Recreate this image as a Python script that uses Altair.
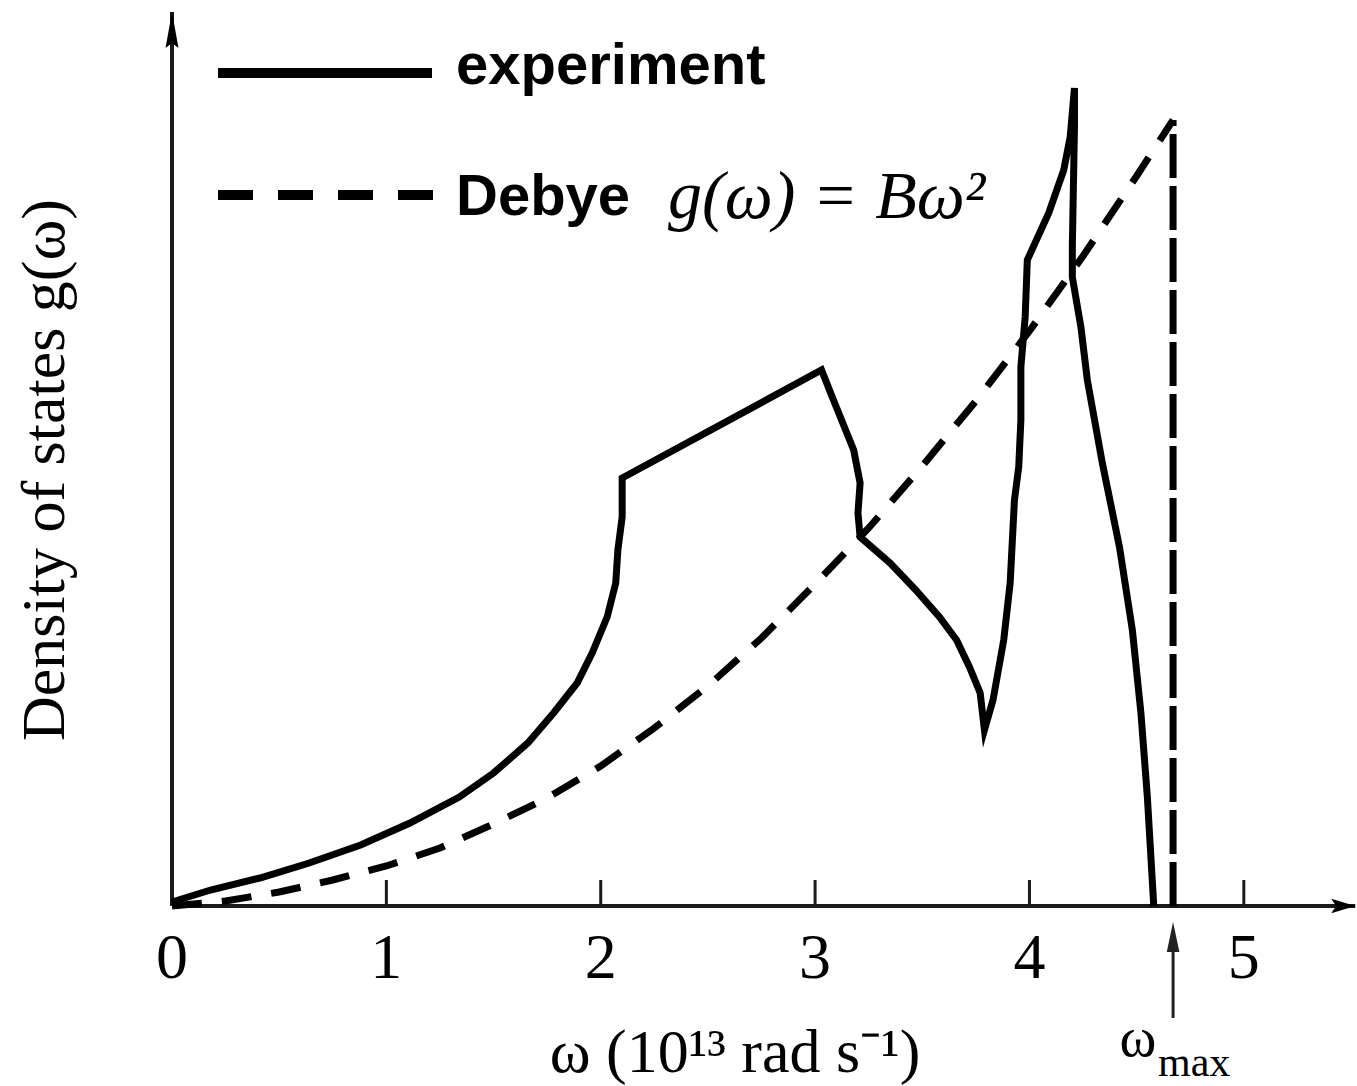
import altair as alt
import pandas as pd

# ---------------- data ----------------
tick_values = [0, 1, 2, 3, 4, 5]
tick_labels = ["0", "1", "2", "3", "4", "5"]

exp_omega = [0.0, 0.18, 0.41, 0.64, 0.88, 1.11, 1.34, 1.50, 1.66, 1.78, 1.89,
             1.96, 2.03, 2.07, 2.08, 2.10, 2.10,
             3.03, 3.08, 3.18, 3.21, 3.20, 3.21,
             3.35, 3.47, 3.58, 3.66, 3.72, 3.77, 3.79,
             3.83, 3.88, 3.91, 3.93, 3.95, 3.96, 3.96, 3.98, 3.99,
             4.09, 4.16, 4.19, 4.21,
             4.21, 4.20, 4.20, 4.24, 4.27, 4.34, 4.42, 4.48, 4.52, 4.55, 4.58]
exp_g = [0.04, 0.16, 0.28, 0.43, 0.61, 0.83, 1.09, 1.33, 1.63, 1.93, 2.23,
         2.53, 2.89, 3.23, 3.56, 3.89, 4.28,
         5.36, 5.09, 4.56, 4.23, 3.93, 3.69,
         3.43, 3.16, 2.89, 2.66, 2.39, 2.13, 1.76,
         2.06, 2.66, 3.23, 4.06, 4.39, 4.86, 5.39, 5.89, 6.46,
         6.93, 7.36, 7.69, 8.18,
         7.79, 6.59, 6.29, 5.79, 5.26, 4.43, 3.59, 2.76, 1.93, 1.09, 0.0]

debye_omega = [0, 0.25, 0.5, 0.75, 1.0, 1.25, 1.5, 1.75, 2.0, 2.25, 2.5, 2.75,
               3.0, 3.25, 3.5, 3.75, 4.0, 4.25, 4.5, 4.67]
debye_g = [0, 0.05, 0.14, 0.26, 0.40, 0.58, 0.82, 1.08, 1.40, 1.78, 2.20, 2.68,
           3.22, 3.78, 4.40, 5.05, 5.75, 6.50, 7.30, 7.86]

omega_max = 4.67
g_max = 7.86

legend_labels = ["experiment", "Debye"]
formula_text = ["g(ω) = Bω²"]
x_title = ["ω (10¹³ rad s⁻¹)"]
y_title = ["Density of states g(ω)"]
omega_max_label = ["ω", "max"]

x_axis_end = 5.52
y_axis_end = 8.94

# ---------------- layout ----------------
L, T = 172, 6
W, H = 1179, 900

xs = alt.Scale(domain=[0, 5.5], nice=False, zero=False)
ys = alt.Scale(domain=[0, 9], nice=False, zero=False)

SERIF = "Liberation Serif"
SANS = "Liberation Sans"

exp_df = pd.DataFrame({"w": exp_omega, "g": exp_g, "i": list(range(len(exp_omega)))})
deb_df = pd.DataFrame({"w": debye_omega, "g": debye_g, "i": list(range(len(debye_omega)))})

X = lambda f: alt.X(f, scale=xs, axis=None)
Y = lambda f: alt.Y(f, scale=ys, axis=None)

exp_line = alt.Chart(exp_df).mark_line(color="black", strokeWidth=7,
                                       strokeMiterLimit=6).encode(
    x=X("w:Q"), y=Y("g:Q"), order="i:Q")

deb_line = alt.Chart(deb_df).mark_line(color="black", strokeWidth=7,
                                       strokeDash=[30, 20]).encode(
    x=X("w:Q"), y=Y("g:Q"), order="i:Q")

vert_df = pd.DataFrame({"w": [omega_max], "g0": [0], "g1": [g_max]})
deb_vert = alt.Chart(vert_df).mark_rule(color="black", strokeWidth=7,
                                        strokeDash=[44, 8]).encode(
    x=X("w:Q"), y=Y("g0:Q"), y2="g1:Q")

# axes
xaxis_df = pd.DataFrame({"x0": [0], "x1": [x_axis_end], "y": [0]})
x_axis = alt.Chart(xaxis_df).mark_rule(color="#1a1a1a", strokeWidth=4).encode(
    x=X("x0:Q"), x2="x1:Q", y=Y("y:Q"))
yaxis_df = pd.DataFrame({"x": [0], "y0": [0], "y1": [y_axis_end]})
y_axis = alt.Chart(yaxis_df).mark_rule(color="#1a1a1a", strokeWidth=4).encode(
    x=X("x:Q"), y=Y("y0:Q"), y2="y1:Q")

up_head = "M0,-1L0.36,1L0,0.72L-0.36,1Z"
right_head = "M1,0L-1,0.6L-0.6,0L-1,-0.6Z"

y_arrow = alt.Chart(pd.DataFrame({"x": [0], "y": [y_axis_end]})).mark_point(
    shape=up_head, size=1296, filled=True, color="black", opacity=1, yOffset=18
).encode(x=X("x:Q"), y=Y("y:Q"))
x_arrow = alt.Chart(pd.DataFrame({"x": [x_axis_end], "y": [0]})).mark_point(
    shape=right_head, size=576, filled=True, color="black", opacity=1, xOffset=-12
).encode(x=X("x:Q"), y=Y("y:Q"))

ticks_df = pd.DataFrame({"t": tick_values[1:], "y0": 0, "y1": 0.26})
ticks = alt.Chart(ticks_df).mark_rule(color="#1a1a1a", strokeWidth=3).encode(
    x=X("t:Q"), y=Y("y0:Q"), y2="y1:Q")

tl_df = pd.DataFrame({"t": tick_values, "lab": tick_labels})
tick_text = alt.Chart(tl_df).mark_text(font=SERIF, fontSize=64, color="black",
                                       align="center", baseline="alphabetic").encode(
    x=X("t:Q"), y=alt.value(972), text="lab:N")

# omega_max arrow
wm_df = pd.DataFrame({"w": [omega_max]})
wm_rule = alt.Chart(wm_df).mark_rule(color="#222", strokeWidth=3).encode(
    x=X("w:Q"), y=alt.value(1012), y2=alt.value(930))
wm_head = alt.Chart(wm_df).mark_point(
    shape="M0,-1L0.42,1L-0.42,1Z", size=900, filled=True, color="#222",
    opacity=1, yOffset=15).encode(x=X("w:Q"), y=alt.value(916))
wm_omega = alt.Chart(pd.DataFrame({"s": [omega_max_label[0]]})).mark_text(
    font=SERIF, fontSize=56, color="black", align="center", baseline="alphabetic"
).encode(x=alt.value(966), y=alt.value(1050), text="s:N")
wm_max = alt.Chart(pd.DataFrame({"s": [omega_max_label[1]]})).mark_text(
    font=SERIF, fontSize=42, color="black", align="left", baseline="alphabetic"
).encode(x=alt.value(986), y=alt.value(1070), text="s:N")

# axis titles
xt = alt.Chart(pd.DataFrame({"s": x_title})).mark_text(
    font=SERIF, fontSize=62, color="black", align="center", baseline="alphabetic"
).encode(x=alt.value(563), y=alt.value(1066), text="s:N")
yt = alt.Chart(pd.DataFrame({"s": y_title})).mark_text(
    font=SERIF, fontSize=62, color="black", align="center", baseline="middle", angle=270
).encode(x=alt.value(-127), y=alt.value(464), text="s:N")

# legend
leg_solid = alt.Chart(pd.DataFrame({"s": [legend_labels[0]]})).mark_rule(
    color="black", strokeWidth=10).encode(x=alt.value(46), x2=alt.value(260), y=alt.value(67))
leg_dash = alt.Chart(pd.DataFrame({"s": [legend_labels[1]]})).mark_rule(
    color="black", strokeWidth=10, strokeDash=[35, 25]).encode(
    x=alt.value(46), x2=alt.value(262), y=alt.value(189))
leg_t1 = alt.Chart(pd.DataFrame({"s": [legend_labels[0]]})).mark_text(
    font=SANS, fontSize=58, fontWeight="bold", color="black", align="left",
    baseline="alphabetic").encode(x=alt.value(284), y=alt.value(78), text="s:N")
leg_t2 = alt.Chart(pd.DataFrame({"s": [legend_labels[1]]})).mark_text(
    font=SANS, fontSize=58, fontWeight="bold", color="black", align="left",
    baseline="alphabetic").encode(x=alt.value(284), y=alt.value(209), text="s:N")
formula = alt.Chart(pd.DataFrame({"s": formula_text})).mark_text(
    font=SERIF, fontSize=68, fontStyle="italic", color="black", align="left",
    baseline="alphabetic").encode(x=alt.value(496), y=alt.value(212), text="s:N")

chart = alt.layer(
    x_axis, y_axis, ticks, x_arrow, y_arrow,
    deb_line, deb_vert, exp_line,
    tick_text, wm_rule, wm_head, wm_omega, wm_max, xt, yt,
    leg_solid, leg_dash, leg_t1, leg_t2, formula
).properties(
    width=W, height=H,
    padding={"left": L, "top": T, "right": 1357 - L - W, "bottom": 1086 - T - H},
    autosize=alt.AutoSizeParams(type="none"),
    background="white",
).configure_view(stroke=None)

chart.save("out.html", embed_options={"renderer": "svg", "actions": False})
